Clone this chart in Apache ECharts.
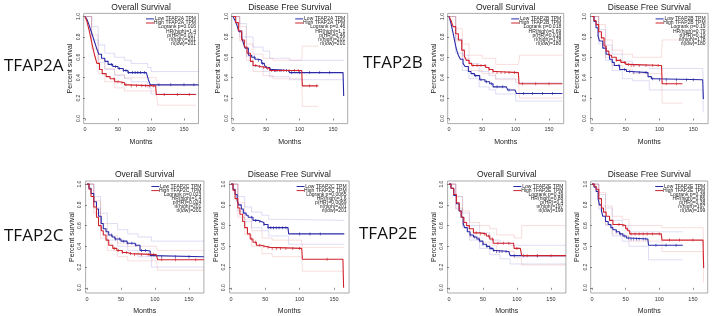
<!DOCTYPE html>
<html>
<head>
<meta charset="utf-8">
<script src="https://cdn.jsdelivr.net/npm/echarts@6/dist/echarts.min.js"></script>
<style>html,body{margin:0;padding:0;background:#fff}#main{width:713px;height:316px}</style>
</head>
<body>
<div id="main"></div>
<script>
// survival curves: [months, survival], drop happens at that month
var aOS_low = [[0,1],[3,0.97],[6,0.92],[9,0.86],[12,0.8],[15,0.74],[18,0.68],[21,0.63],[25,0.59],[30,0.56],[35,0.53],[42,0.51],[50,0.49],[58,0.47],[65,0.45],[93,0.45],[96,0.38],[99,0.33],[172,0.33]];
var aOS_high = [[0,1],[3,0.95],[6,0.87],[9,0.78],[12,0.69],[15,0.61],[18,0.54],[22,0.48],[26,0.44],[32,0.41],[38,0.39],[45,0.36],[52,0.35],[60,0.33],[66,0.32],[107,0.32],[108,0.235],[168,0.235]];
var aDFS_low = [[0,1],[3,0.96],[6,0.91],[9,0.85],[13,0.79],[16,0.73],[18,0.69],[23,0.62],[28,0.6],[33,0.58],[38,0.57],[43,0.54],[47,0.52],[50,0.5],[55,0.48],[60,0.47],[83,0.47],[85,0.45],[165,0.45],[166,0.22]];
var aDFS_high = [[0,1],[4,0.94],[8,0.86],[13,0.77],[17,0.7],[21,0.64],[26,0.56],[30,0.52],[35,0.51],[41,0.5],[50,0.49],[55,0.47],[103,0.47],[104,0.32],[128,0.32]];
var bOS_low = [[0,1],[3,0.93],[6,0.84],[9,0.74],[11,0.68],[14,0.62],[17,0.58],[21,0.54],[24,0.51],[29,0.46],[33,0.44],[38,0.42],[46,0.38],[54,0.36],[61,0.34],[66,0.31],[86,0.31],[88,0.28],[99,0.28],[101,0.245],[170,0.245]];
var bOS_high = [[0,1],[3,0.96],[6,0.9],[10,0.83],[14,0.77],[19,0.67],[23,0.61],[26,0.57],[30,0.54],[34,0.52],[49,0.52],[55,0.5],[60,0.48],[66,0.46],[70,0.45],[104,0.45],[105,0.34],[170,0.34]];
var bDFS_low = [[0,1],[3,0.95],[6,0.89],[9,0.81],[11,0.76],[16,0.69],[21,0.63],[26,0.58],[30,0.55],[33,0.52],[41,0.48],[51,0.46],[58,0.45],[83,0.41],[88,0.39],[92,0.38],[164,0.38],[165,0.19]];
var bDFS_high = [[0,1],[3,0.96],[6,0.92],[10,0.85],[14,0.79],[18,0.71],[21,0.66],[25,0.62],[29,0.6],[36,0.57],[43,0.55],[50,0.53],[55,0.52],[103,0.52],[104,0.34],[134,0.34]];
var cOS_low = [[0,1],[3,0.96],[6,0.91],[10,0.83],[14,0.76],[17,0.69],[21,0.62],[24,0.57],[28,0.54],[32,0.51],[37,0.49],[41,0.47],[50,0.45],[59,0.43],[71,0.41],[78,0.36],[88,0.355],[93,0.31],[96,0.3],[172,0.3]];
var cOS_high = [[0,1],[3,0.95],[6,0.88],[10,0.78],[14,0.68],[17,0.6],[21,0.55],[24,0.51],[28,0.46],[32,0.41],[38,0.38],[44,0.36],[52,0.34],[59,0.33],[65,0.32],[102,0.32],[104,0.27],[172,0.27]];
var cDFS_low = [[0,1],[3,0.95],[6,0.9],[9,0.84],[11,0.8],[15,0.76],[18,0.72],[22,0.7],[25,0.68],[32,0.65],[40,0.64],[44,0.63],[48,0.61],[54,0.58],[83,0.58],[84,0.52],[165,0.52]];
var cDFS_high = [[0,1],[3,0.94],[6,0.86],[10,0.77],[13,0.71],[17,0.64],[20,0.58],[24,0.52],[28,0.47],[32,0.44],[37,0.41],[44,0.4],[49,0.39],[57,0.38],[103,0.38],[104,0.275],[163,0.275],[164,0.0]];
var eOS_low = [[0,1],[3,0.96],[7,0.89],[11,0.81],[15,0.74],[18,0.68],[21,0.62],[23,0.58],[27,0.54],[31,0.51],[36,0.49],[41,0.47],[45,0.45],[50,0.42],[55,0.4],[60,0.38],[65,0.36],[70,0.35],[88,0.35],[90,0.31],[172,0.31]];
var eOS_high = [[0,1],[3,0.96],[7,0.9],[11,0.82],[15,0.74],[18,0.68],[22,0.63],[26,0.6],[30,0.57],[36,0.53],[45,0.52],[55,0.5],[60,0.47],[65,0.43],[95,0.43],[96,0.38],[105,0.38],[107,0.31],[172,0.31]];
var eDFS_low = [[0,1],[3,0.97],[6,0.93],[9,0.86],[11,0.8],[14,0.74],[16,0.69],[20,0.64],[24,0.61],[28,0.58],[31,0.56],[36,0.54],[41,0.52],[46,0.5],[51,0.48],[55,0.47],[83,0.47],[84,0.41],[135,0.41]];
var eDFS_high = [[0,1],[3,0.98],[6,0.95],[10,0.86],[14,0.77],[17,0.73],[21,0.69],[26,0.65],[31,0.61],[44,0.6],[50,0.57],[53,0.55],[56,0.52],[103,0.52],[104,0.46],[165,0.46],[166,0.19]];

// 95% CI: [months, upper, lower]
var aOS_lowCI = [[0,1,1],[10,0.9,0.77],[20,0.72,0.55],[30,0.64,0.48],[45,0.6,0.42],[60,0.57,0.39],[70,0.54,0.36],[95,0.5,0.3],[100,0.46,0.24],[172,0.46,0.24]];
var aOS_highCI = [[0,1,1],[10,0.82,0.68],[20,0.58,0.44],[30,0.49,0.36],[45,0.43,0.3],[60,0.4,0.27],[108,0.4,0.26],[110,0.33,0.13],[168,0.33,0.13]];
var aDFS_lowCI = [[0,1,1],[10,0.93,0.8],[20,0.8,0.61],[30,0.7,0.51],[45,0.66,0.46],[55,0.59,0.41],[85,0.57,0.38],[166,0.57,0.36]];
var aDFS_highCI = [[0,1,1],[10,0.9,0.76],[20,0.73,0.57],[30,0.63,0.46],[45,0.59,0.42],[60,0.57,0.39],[103,0.57,0.38],[104,0.71,0.12],[128,0.71,0.12]];
var bOS_lowCI = [[0,1,1],[10,0.78,0.64],[20,0.62,0.47],[30,0.54,0.39],[45,0.46,0.31],[60,0.42,0.28],[70,0.39,0.24],[100,0.35,0.17],[170,0.35,0.17]];
var bOS_highCI = [[0,1,1],[10,0.88,0.76],[20,0.73,0.59],[30,0.62,0.47],[50,0.59,0.44],[70,0.53,0.38],[104,0.53,0.37],[106,0.62,0.2],[170,0.62,0.2]];
var bDFS_lowCI = [[0,1,1],[10,0.87,0.73],[20,0.72,0.57],[30,0.63,0.47],[45,0.56,0.39],[60,0.52,0.37],[85,0.49,0.28],[164,0.49,0.28],[165,0.38,0.06]];
var bDFS_highCI = [[0,1,1],[10,0.92,0.78],[20,0.77,0.6],[30,0.67,0.52],[45,0.63,0.48],[60,0.6,0.44],[103,0.6,0.44],[104,0.77,0.15],[134,0.77,0.15]];
var cOS_lowCI = [[0,1,1],[10,0.88,0.77],[20,0.72,0.57],[30,0.62,0.46],[45,0.56,0.4],[60,0.52,0.36],[75,0.49,0.3],[95,0.45,0.2],[172,0.45,0.2]];
var cOS_highCI = [[0,1,1],[10,0.84,0.72],[20,0.62,0.48],[30,0.5,0.36],[45,0.43,0.3],[60,0.4,0.26],[102,0.39,0.25],[104,0.36,0.17],[172,0.36,0.17]];
var cDFS_lowCI = [[0,1,1],[10,0.88,0.74],[20,0.78,0.64],[30,0.73,0.58],[45,0.7,0.55],[55,0.66,0.5],[84,0.65,0.42],[165,0.65,0.42]];
var cDFS_highCI = [[0,1,1],[10,0.82,0.68],[20,0.66,0.51],[30,0.55,0.4],[45,0.48,0.33],[60,0.46,0.3],[103,0.46,0.3],[104,0.39,0.16],[164,0.39,0.16]];
var eOS_lowCI = [[0,1,1],[10,0.88,0.76],[20,0.72,0.58],[30,0.6,0.46],[45,0.53,0.38],[60,0.46,0.32],[75,0.43,0.28],[90,0.41,0.23],[172,0.41,0.23]];
var eOS_highCI = [[0,1,1],[10,0.88,0.77],[20,0.74,0.6],[30,0.63,0.49],[45,0.6,0.44],[60,0.57,0.41],[70,0.51,0.35],[96,0.48,0.29],[107,0.6,0.22],[172,0.6,0.22]];
var eDFS_lowCI = [[0,1,1],[10,0.9,0.76],[20,0.77,0.6],[30,0.65,0.5],[45,0.6,0.45],[55,0.54,0.4],[84,0.54,0.27],[135,0.54,0.27]];
var eDFS_highCI = [[0,1,1],[10,0.92,0.79],[20,0.79,0.61],[30,0.69,0.52],[45,0.66,0.5],[55,0.6,0.45],[104,0.58,0.35],[165,0.58,0.35],[166,0.4,0.05]];

// censored observations (months)
var aOS_lowCens = [40,46,52,58,62,66,72,76,80,84,90,112,130,150,165];
var aOS_highCens = [44,50,56,62,70,78,86,92,98,104,120,140,158];
var aDFS_lowCens = [32,38,44,50,56,62,66,72,80,88,100,115,130,145];
var aDFS_highCens = [34,40,46,52,58,64,70,76,84,92,98,115,125];
var bOS_lowCens = [40,48,56,64,72,80,90,112,125,140,155];
var bOS_highCens = [36,42,48,54,60,66,72,78,84,90,98,110,130,150];
var bDFS_lowCens = [40,48,56,62,70,80,90,100,110,125,140,150];
var bDFS_highCens = [36,42,48,54,58,62,70,80,90,98,110,125];
var cOS_lowCens = [36,42,48,54,60,66,72,80,86,110,130,150];
var cOS_highCens = [40,46,52,58,64,70,80,90,98,110,130,160];
var cDFS_lowCens = [30,36,42,48,54,58,62,66,70,75,80,100,115,130];
var cDFS_highCens = [30,36,42,48,54,60,66,72,80,90,100,140];
var eOS_lowCens = [32,38,44,50,56,62,66,70,74,78,84,96,110,130];
var eOS_highCens = [40,46,52,58,64,72,80,88,100,115,130,150];
var eDFS_lowCens = [36,42,48,54,58,62,66,70,76,80,95,110,125];
var eDFS_highCens = [40,46,52,58,64,70,76,82,90,100,115,130,150];

var genes = ['TFAP2A', 'TFAP2B', 'TFAP2C', 'TFAP2E'];
var xTicks = [0, 50, 100, 150];
var yTicks = [0, 0.2, 0.4, 0.6, 0.8, 1.0];

var aOS_stats = ['Logrank p=0.016', 'HR(high)=1.4', 'p(HR)=0.017', 'n(high)=201', 'n(low)=201'];
var aDFS_stats = ['Logrank p=0.46', 'HR(high)=1.1', 'p(HR)=0.46', 'n(high)=201', 'n(low)=201'];
var bOS_stats = ['Logrank p=0.018', 'HR(high)=0.69', 'p(HR)=0.018', 'n(high)=178', 'n(low)=180'];
var bDFS_stats = ['Logrank p=0.19', 'HR(high)=0.79', 'p(HR)=0.19', 'n(high)=178', 'n(low)=180'];
var cOS_stats = ['Logrank p=0.023', 'HR(high)=1.4', 'p(HR)=0.024', 'n(high)=201', 'n(low)=201'];
var cDFS_stats = ['Logrank p=0.0065', 'HR(high)=1.6', 'p(HR)=0.0069', 'n(high)=201', 'n(low)=201'];
var eOS_stats = ['Logrank p=0.39', 'HR(high)=0.88', 'p(HR)=0.4', 'n(high)=197', 'n(low)=199'];
var eDFS_stats = ['Logrank p=0.38', 'HR(high)=0.86', 'p(HR)=0.38', 'n(high)=197', 'n(low)=199'];

var panels = [
  {gene: 0, title: 'Overall Survival', low: aOS_low, high: aOS_high, lowCI: aOS_lowCI, highCI: aOS_highCI, lowCens: aOS_lowCens, highCens: aOS_highCens, stats: aOS_stats},
  {gene: 0, title: 'Disease Free Survival', low: aDFS_low, high: aDFS_high, lowCI: aDFS_lowCI, highCI: aDFS_highCI, lowCens: aDFS_lowCens, highCens: aDFS_highCens, stats: aDFS_stats},
  {gene: 1, title: 'Overall Survival', low: bOS_low, high: bOS_high, lowCI: bOS_lowCI, highCI: bOS_highCI, lowCens: bOS_lowCens, highCens: bOS_highCens, stats: bOS_stats},
  {gene: 1, title: 'Disease Free Survival', low: bDFS_low, high: bDFS_high, lowCI: bDFS_lowCI, highCI: bDFS_highCI, lowCens: bDFS_lowCens, highCens: bDFS_highCens, stats: bDFS_stats},
  {gene: 2, title: 'Overall Survival', low: cOS_low, high: cOS_high, lowCI: cOS_lowCI, highCI: cOS_highCI, lowCens: cOS_lowCens, highCens: cOS_highCens, stats: cOS_stats},
  {gene: 2, title: 'Disease Free Survival', low: cDFS_low, high: cDFS_high, lowCI: cDFS_lowCI, highCI: cDFS_highCI, lowCens: cDFS_lowCens, highCens: cDFS_highCens, stats: cDFS_stats},
  {gene: 3, title: 'Overall Survival', low: eOS_low, high: eOS_high, lowCI: eOS_lowCI, highCI: eOS_highCI, lowCens: eOS_lowCens, highCens: eOS_highCens, stats: eOS_stats},
  {gene: 3, title: 'Disease Free Survival', low: eDFS_low, high: eDFS_high, lowCI: eDFS_lowCI, highCI: eDFS_highCI, lowCens: eDFS_lowCens, highCens: eDFS_highCens, stats: eDFS_stats}
];

// plot boxes (px)
var boxes = [
  {left: 83.7, top: 13.4, width: 114.8, height: 110.2},
  {left: 231.7, top: 13.4, width: 116, height: 110.2},
  {left: 447.7, top: 13.4, width: 116, height: 110.2},
  {left: 590.6, top: 13.4, width: 117.5, height: 110.2},
  {left: 85.6, top: 181, width: 118.3, height: 112.3},
  {left: 229.6, top: 181, width: 119.5, height: 112.3},
  {left: 447.6, top: 181, width: 118.3, height: 112.3},
  {left: 590.7, top: 181, width: 117, height: 112.3}
];
var geneLabelPos = [[4, 66], [363, 63], [4, 236], [359, 234]];

var BLUE = '#2a2aa8', RED = '#d0222c';
var BLUE_CI = 'rgba(120,120,215,0.35)', RED_CI = 'rgba(230,120,120,0.35)';
var FONT = '"Liberation Sans", Arial, sans-serif';

function stepAt(curve, t) {
  var y = curve[0][1];
  for (var i = 0; i < curve.length; i++) {
    if (curve[i][0] <= t) y = curve[i][1];
  }
  return y;
}

var chart = echarts.init(document.getElementById('main'), null, {renderer: 'canvas'});
var grids = [], xAxes = [], yAxes = [], series = [], graphics = [];

panels.forEach(function (p, i) {
  var b = boxes[i];
  grids.push({left: b.left, top: b.top, width: b.width, height: b.height, show: true,
    borderColor: '#888', borderWidth: 0.7, backgroundColor: 'transparent'});
  xAxes.push({gridIndex: i, type: 'value', min: -2, max: 172,
    axisLine: {show: false}, splitLine: {show: false},
    axisTick: {show: true, length: 2, customValues: xTicks, lineStyle: {color: '#444', width: 0.6}},
    axisLabel: {customValues: xTicks, fontSize: 5.5, color: '#333', margin: 3, fontFamily: FONT},
    name: 'Months', nameLocation: 'middle', nameGap: 15,
    nameTextStyle: {fontSize: 7, color: '#222', fontFamily: FONT}});
  yAxes.push({gridIndex: i, type: 'value', min: -0.05, max: 1.03,
    axisLine: {show: false}, splitLine: {show: false},
    axisTick: {show: true, length: 2, customValues: yTicks, lineStyle: {color: '#444', width: 0.6}},
    axisLabel: {customValues: yTicks, fontSize: 5, color: '#333', margin: 3, rotate: 90, fontFamily: FONT,
      formatter: function (v) { return v.toFixed(1); }},
    name: 'Percent survival', nameLocation: 'middle', nameGap: 10,
    nameTextStyle: {fontSize: 7, color: '#222', fontFamily: FONT}});

  var ciSets = [[p.lowCI, BLUE_CI], [p.highCI, RED_CI]];
  ciSets.forEach(function (c) {
    [1, 2].forEach(function (k) {
      series.push({type: 'line', xAxisIndex: i, yAxisIndex: i, step: 'end', showSymbol: false, silent: true,
        data: c[0].map(function (d) { return [d[0], d[k]]; }),
        lineStyle: {color: c[1], width: 0.7}});
    });
  });
  [[p.low, p.lowCens, BLUE], [p.high, p.highCens, RED]].forEach(function (s) {
    series.push({type: 'line', xAxisIndex: i, yAxisIndex: i, step: 'end', showSymbol: false, silent: true,
      data: s[0], lineStyle: {color: s[2], width: 1.1}});
    series.push({type: 'scatter', xAxisIndex: i, yAxisIndex: i, silent: true,
      symbol: 'rect', symbolSize: [0.8, 3],
      data: s[1].map(function (t) { return [t, stepAt(s[0], t)]; }),
      itemStyle: {color: s[2]}});
  });

  // title
  graphics.push({type: 'text', x: b.left + b.width / 2, y: b.top - 6,
    style: {text: p.title, font: '8.5px ' + FONT, fill: '#222', align: 'center', verticalAlign: 'middle'}});

  // legend block
  var g = genes[p.gene];
  var right = b.left + b.width - 2.5;
  var lines = ['Low ' + g + ' TPM', 'High ' + g + ' TPM'].concat(p.stats);
  lines.forEach(function (t, k) {
    graphics.push({type: 'text', x: right, y: b.top + 5.5 + k * 4.1,
      style: {text: t, font: '5px ' + FONT, fill: '#222', align: 'right', verticalAlign: 'middle'}});
  });
  [BLUE, RED].forEach(function (col, k) {
    graphics.push({type: 'line', shape: {x1: right - 50, y1: b.top + 5.5 + k * 4.1, x2: right - 42, y2: b.top + 5.5 + k * 4.1},
      style: {stroke: col, lineWidth: 1}});
  });
});

genes.forEach(function (g, i) {
  graphics.push({type: 'text', x: geneLabelPos[i][0], y: geneLabelPos[i][1],
    style: {text: g, font: '17px "Open Sans", sans-serif', fill: '#111', align: 'left', verticalAlign: 'middle'}});
});

chart.setOption({
  animation: false,
  backgroundColor: '#fff',
  grid: grids,
  xAxis: xAxes,
  yAxis: yAxes,
  series: series,
  graphic: graphics
});
</script>
</body>
</html>
